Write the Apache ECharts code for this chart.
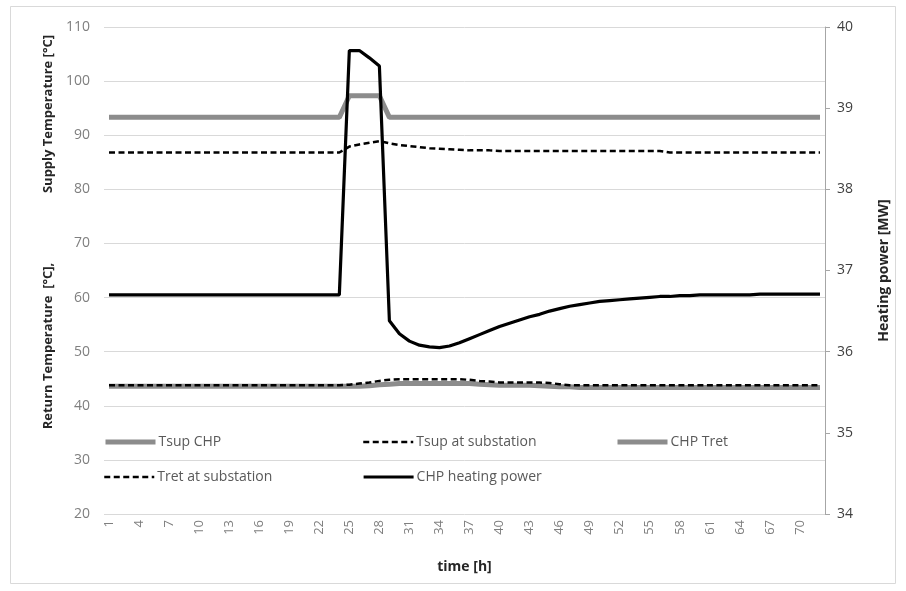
<!DOCTYPE html>
<html>
<head>
<meta charset="utf-8">
<script src="https://cdn.jsdelivr.net/npm/echarts@6/dist/echarts.min.js"></script>
<style>html,body{margin:0;padding:0;background:#fff}#c{width:906px;height:591px}</style>
</head>
<body>
<div id="c"></div>
<script>
const hours = Array.from({length: 72}, (_, i) => String(i + 1));

const tsupCHP = [
  93.3,93.3,93.3,93.3,93.3,93.3,93.3,93.3,93.3,93.3,93.3,93.3,93.3,93.3,93.3,93.3,93.3,93.3,93.3,93.3,93.3,93.3,93.3,93.3,
  97.3,97.3,97.3,97.3,
  93.3,93.3,93.3,93.3,93.3,93.3,93.3,93.3,93.3,93.3,93.3,93.3,93.3,93.3,93.3,93.3,93.3,93.3,93.3,93.3,93.3,93.3,93.3,93.3,
  93.3,93.3,93.3,93.3,93.3,93.3,93.3,93.3,93.3,93.3,93.3,93.3,93.3,93.3,93.3,93.3,93.3,93.3,93.3,93.3
];

const tsupSub = [
  86.8,86.8,86.8,86.8,86.8,86.8,86.8,86.8,86.8,86.8,86.8,86.8,86.8,86.8,86.8,86.8,86.8,86.8,86.8,86.8,86.8,86.8,86.8,86.8,
  87.9,88.3,88.6,88.9,88.5,88.2,88.0,87.8,87.6,87.5,87.4,87.3,
  87.2,87.2,87.2,87.1,87.1,87.1,87.1,87.1,87.1,87.1,87.1,87.1,87.1,87.1,87.1,87.1,87.1,87.1,87.1,87.1,
  86.8,86.8,86.8,86.8,86.8,86.8,86.8,86.8,86.8,86.8,86.8,86.8,86.8,86.8,86.8,86.8
];

const tretCHP = [
  43.6,43.6,43.6,43.6,43.6,43.6,43.6,43.6,43.6,43.6,43.6,43.6,43.6,43.6,43.6,43.6,43.6,43.6,43.6,43.6,43.6,43.6,43.6,43.6,
  43.6,43.6,43.7,43.9,44.0,44.1,44.1,44.1,44.1,44.1,44.1,44.1,44.1,44.0,43.9,43.8,43.8,43.8,43.8,43.7,43.6,43.5,43.5,43.4,
  43.4,43.4,43.4,43.4,43.4,43.4,43.4,43.4,43.4,43.4,43.4,43.4,43.4,43.4,43.4,43.4,43.4,43.4,43.4,43.4,43.4,43.4,43.4,43.4
];

const tretSub = [
  43.8,43.8,43.8,43.8,43.8,43.8,43.8,43.8,43.8,43.8,43.8,43.8,43.8,43.8,43.8,43.8,43.8,43.8,43.8,43.8,43.8,43.8,43.8,43.8,
  43.9,44.1,44.3,44.6,44.8,44.9,44.9,44.9,44.9,44.9,44.9,44.9,44.8,44.6,44.5,44.3,44.3,44.3,44.3,44.3,44.2,44.0,43.8,43.8,
  43.8,43.8,43.8,43.8,43.8,43.8,43.8,43.8,43.8,43.8,43.8,43.8,43.8,43.8,43.8,43.8,43.8,43.8,43.8,43.8,43.8,43.8,43.8,43.8
];

const heatPower = [
  36.7,36.7,36.7,36.7,36.7,36.7,36.7,36.7,36.7,36.7,36.7,36.7,36.7,36.7,36.7,36.7,36.7,36.7,36.7,36.7,36.7,36.7,36.7,36.7,
  39.71,39.71,39.62,39.52,
  36.38,36.22,36.13,36.08,36.06,36.05,36.07,36.11,36.16,36.21,36.26,36.31,36.35,36.39,36.43,36.46,36.50,36.53,36.56,36.58,
  36.60,36.62,36.63,36.64,36.65,36.66,36.67,36.68,36.68,36.69,36.69,36.70,36.70,36.70,36.70,36.70,36.70,36.71,36.71,36.71,
  36.71,36.71,36.71,36.71
];

const leftTicks = {min: 20, max: 110, interval: 10};
const rightTicks = {min: 34, max: 40, interval: 1};

const chart = echarts.init(document.getElementById('c'));
const FONT = 'Open Sans';
const legendText = {color: '#595959', fontSize: 14, fontFamily: FONT, padding: [0, 0, 0, -2]};
function leg(name, left, top, lw) {
  return {data: [name], left: left, top: top, itemWidth: 50, itemHeight: 14, itemGap: 0, padding: 0,
          textStyle: legendText, itemStyle: {opacity: 0}, lineStyle: {width: lw}};
}
chart.setOption({
  animation: false,
  backgroundColor: '#fff',
  grid: {left: 104, right: 81, top: 27, bottom: 77},
  legend: [
    leg('Tsup CHP', 103, 435, 5),
    leg('Tsup at substation', 362, 435, 2.5),
    leg('CHP Tret', 615, 435, 5),
    leg('Tret at substation', 103, 470, 2.5),
    leg('CHP heating power', 362, 470, 3.2)
  ],
  xAxis: {
    type: 'category', data: hours, boundaryGap: true,
    axisLine: {show: false}, axisTick: {show: false},
    axisLabel: {rotate: 90, interval: 2, color: '#7f7f7f', fontSize: 13, fontFamily: FONT, margin: 6},
    name: 'time [h]', nameLocation: 'middle', nameGap: 46,
    nameTextStyle: {fontWeight: 'bold', fontSize: 14, color: '#262626', fontFamily: FONT}
  },
  yAxis: [
    {
      type: 'value', min: leftTicks.min, max: leftTicks.max, interval: leftTicks.interval,
      axisLine: {show: false}, axisTick: {show: false},
      axisLabel: {color: '#7f7f7f', fontSize: 14, fontFamily: FONT, margin: 14},
      splitLine: {lineStyle: {color: '#d9d9d9', width: 1}}
    },
    {
      type: 'value', position: 'right', min: rightTicks.min, max: rightTicks.max, interval: rightTicks.interval,
      axisLine: {show: true, lineStyle: {color: '#a6a6a6', width: 1}},
      axisTick: {show: true, length: 5, lineStyle: {color: '#a6a6a6'}},
      axisLabel: {color: '#404040', fontSize: 14, fontFamily: FONT, margin: 12},
      splitLine: {show: false},
      name: 'Heating power [MW]', nameLocation: 'middle', nameGap: 52, nameRotate: 90,
      nameTextStyle: {fontWeight: 'bold', fontSize: 14, color: '#262626', fontFamily: FONT}
    }
  ],
  graphic: [
    {type: 'rect', shape: {x: 10.5, y: 6.5, width: 885, height: 577}, style: {fill: 'none', stroke: '#d9d9d9', lineWidth: 1}, silent: true},
    {type: 'text', x: 48, y: 114, rotation: Math.PI / 2,
     style: {text: 'Supply Temperature [°C]', font: 'bold 13px "Open Sans"', fill: '#262626', align: 'center', verticalAlign: 'middle'}},
    {type: 'text', x: 48, y: 346, rotation: Math.PI / 2,
     style: {text: 'Return Temperature  [°C],', font: 'bold 13px "Open Sans"', fill: '#262626', align: 'center', verticalAlign: 'middle'}}
  ],
  series: [
    {name: 'Tsup CHP', type: 'line', data: tsupCHP, yAxisIndex: 0, symbol: 'none', z: 2,
     lineStyle: {color: '#8c8c8c', width: 5}, itemStyle: {color: '#8c8c8c'}},
    {name: 'Tsup at substation', type: 'line', data: tsupSub, yAxisIndex: 0, symbol: 'none', z: 3,
     lineStyle: {color: '#000', width: 2.5, type: [6, 3.5]}, itemStyle: {color: '#000'}},
    {name: 'CHP Tret', type: 'line', data: tretCHP, yAxisIndex: 0, symbol: 'none', z: 2,
     lineStyle: {color: '#8c8c8c', width: 5}, itemStyle: {color: '#8c8c8c'}},
    {name: 'Tret at substation', type: 'line', data: tretSub, yAxisIndex: 0, symbol: 'none', z: 3,
     lineStyle: {color: '#000', width: 2.5, type: [6, 3.5]}, itemStyle: {color: '#000'}},
    {name: 'CHP heating power', type: 'line', data: heatPower, yAxisIndex: 1, symbol: 'none', z: 4,
     lineStyle: {color: '#000', width: 3.2}, itemStyle: {color: '#000'}}
  ]
});
</script>
</body>
</html>
